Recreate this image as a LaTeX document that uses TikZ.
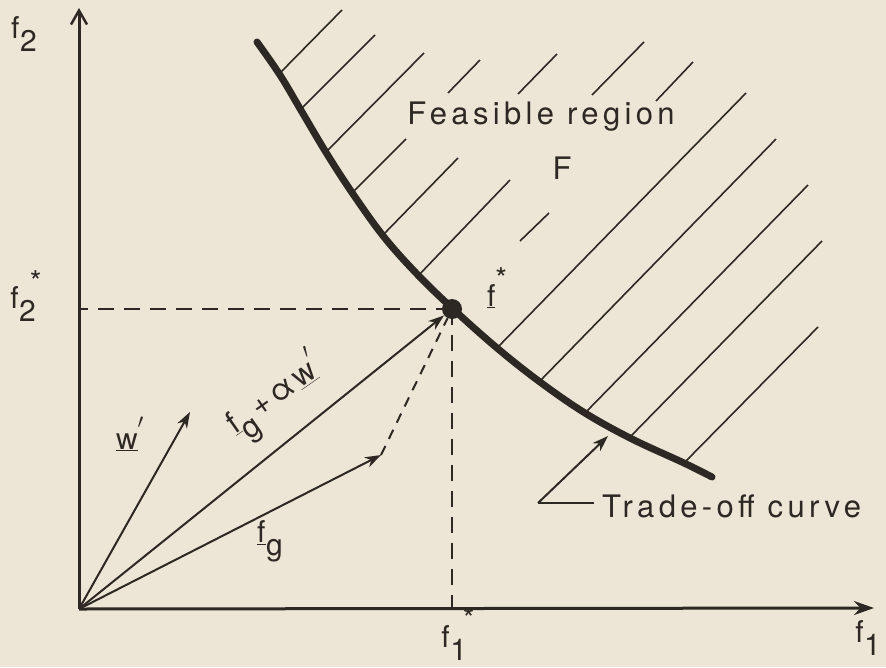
\documentclass[tikz,border=0pt]{standalone}
\usepackage{fontspec}
\setmainfont{TeX Gyre Heros}
\newfontfamily\lettering[LetterSpace=14]{TeX Gyre Heros}
\usetikzlibrary{arrows.meta}
\definecolor{paper}{RGB}{237,230,215}
\definecolor{ink}{RGB}{45,40,35}
\newcommand{\sub}[2]{#1\kern0.5pt\raisebox{-0.42em}{#2}}
\begin{document}
\begin{tikzpicture}[x=1pt,y=-1pt,
  lab/.style={text=ink,font=\fontsize{30}{34}\selectfont,inner sep=0pt},
  words/.style={text=ink,font=\lettering\fontsize{31}{34}\selectfont,inner sep=0pt},
  axisline/.style={draw=ink,line width=3pt},
  tradecurve/.style={draw=ink,line width=7pt,line cap=round},
  hatch/.style={draw=ink,line width=1.6pt},
  vec/.style={draw=ink,line width=2pt,-{Stealth[length=16pt,width=11pt,inset=5pt]}},
  dashline/.style={draw=ink,line width=2.5pt,dash pattern=on 16pt off 10pt}]
\fill[paper] (0,0) rectangle (886,667);
\useasboundingbox (0,0) rectangle (886,667);
% axes
\coordinate (O) at (79,609);
\coordinate (ytop) at (79,8);
\coordinate (xend) at (874,608);
\draw[axisline,-{Straight Barb[length=14pt,width=16pt,line width=2.5pt]}] (O) -- (ytop);
\draw[axisline,-{Stealth[length=20pt,width=14pt]}] (O) -- (xend);
% hatches
\foreach \a/\b/\c/\d in {280/73/342/10, 300/110/375/35, 326/152/424/53, 350/195/406/139,
  382/236/458/158, 416/278/510/180, 520/241/549/213, 448/93/480/60, 518/94/557/54,
  592/95/644/42, 656/101/693/62, 497/348/746/93, 538/383/776/139, 585/413/808/185,
  630/437/822/241, 684/463/818/327}
  \draw[hatch] (\a,\b) -- (\c,\d);
% trade-off curve
\draw[tradecurve] plot[smooth,tension=0.6] coordinates {(257,42) (280,75) (302,112) (327,154) (353,194) (384,237) (417,274) (452,308) (497,348) (540,382) (585,413) (632,439) (684,463) (712,477)};
% optimum point
\node[circle,fill=ink,minimum size=20pt,inner sep=0pt] (fstar) at (452,309) {};
\draw[dashline] (fstar.center) -- (fstar -| O);
\draw[dashline] (fstar.center) -- (fstar |- O);
% vectors
\coordinate (wtip) at (190,412);
\coordinate (fgtip) at (381,455);
\draw[vec] (O) -- (wtip);
\draw[vec] (O) -- (fgtip);
\draw[vec] (O) -- (fstar);
\draw[draw=ink,line width=2pt,dash pattern=on 10pt off 8pt] (fgtip) -- (fstar);
% labels
\node[lab] (f2) at (24,34) {\sub{f}{2}};
\node[lab] (f2s) at (26,296) {\sub{f}{2}\raisebox{0.55em}{\kern-6pt *}};
\node[lab] (f1s) at (458,634) {\sub{f}{1}\raisebox{0.6em}{\kern-4pt *}};
\node[lab] (f1) at (868,638) {\sub{f}{1}};
\node[lab] (fsl) at (497,288) {\underline{f}\raisebox{0.55em}{*}};
\node[lab] (wl) at (130,434) {\underline{w}\raisebox{0.4em}{$'$}};
\node[lab] (fgl) at (270,541) {\underline{f}\kern0.5pt\raisebox{-0.42em}{g}};
\node[words,rotate=35] (fgal) at (276,398) {\underline{f}\raisebox{-0.42em}{g}\kern4pt+\kern4ptα\kern4pt\underline{w}\raisebox{0.4em}{$'$}};
\node[words] (feas) at (541,117) {Feasible region};
\node[words] (F) at (562,168) {F};
% trade-off leader
\coordinate (lc) at (538,503);
\coordinate (le) at (594,503);
\coordinate (lt) at (608,436);
\node[words,anchor=west] (tl) at (602,506) {Trade-off curve};
\draw[draw=ink,line width=2pt] (lc) -- (le);
\draw[vec] (lc) -- (lt);
\end{tikzpicture}
\end{document}
